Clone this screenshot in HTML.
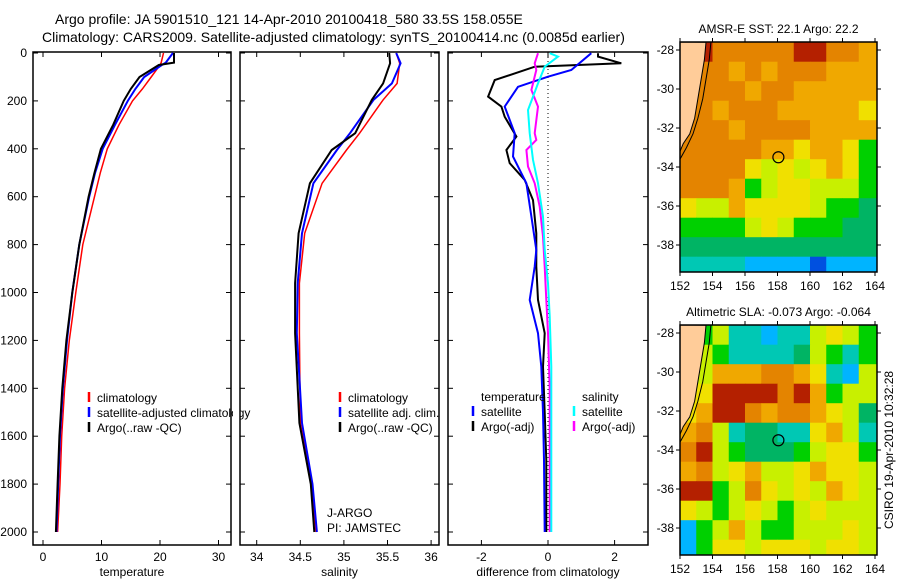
<!DOCTYPE html>
<html><head><meta charset="utf-8"><style>
html,body{margin:0;padding:0;background:#fff;}
svg{display:block;font-family:"Liberation Sans",sans-serif;}
</style></head><body>
<svg id="fig" width="900" height="580" viewBox="0 0 900 580" xmlns="http://www.w3.org/2000/svg">
<rect x="0" y="0" width="900" height="580" fill="#fff"/>
<text x="55" y="24" font-size="14">Argo profile: JA 5901510_121 14-Apr-2010 20100418_580 33.5S 158.055E</text>
<text x="42" y="42" font-size="14">Climatology: CARS2009. Satellite-adjusted climatology: synTS_20100414.nc (0.0085d earlier)</text>
<g id="g"></g>
</svg>
<script>
// ---- data ----
const depthT = [0,40,50,100,150,200,300,400,500,600,800,1000,1200,1400,1600,1800,2000];
const tempClim = [20.6,20.2,20.0,18.5,17.0,15.3,13.0,11.0,9.8,8.8,6.8,5.6,4.5,3.7,3.2,2.9,2.5];
const tempSat  = [22.2,21.0,20.3,17.3,15.8,14.5,12.3,10.2,8.9,7.9,6.2,5.0,4.1,3.4,2.9,2.6,2.3];
const tempArgo = [22.4,22.4,19.8,16.5,15.0,13.8,12.0,9.9,8.8,7.8,6.2,5.0,4.0,3.3,2.8,2.5,2.2];
const depthS = [0,43,127,196,335,405,544,753,961,1170,1545,1800,2000];
const salClim = [35.60,35.64,35.61,35.45,35.18,35.03,34.75,34.55,34.49,34.49,34.50,34.63,34.68];
const salSat  = [35.60,35.65,35.55,35.34,35.07,34.92,34.65,34.52,34.47,34.46,34.52,34.64,34.69];
const salArgo = [35.52,35.53,35.45,35.32,35.13,34.86,34.61,34.48,34.44,34.44,34.49,34.62,34.66];
const depthDT = [1,15,43,57,85,113,182,224,266,349,405,460,530,614,753,892,1031,1170,1310,1500,1700,2000];
const diffTArgo = [1.5,1.5,2.2,-0.4,-1.0,-1.6,-1.8,-1.4,-1.3,-0.95,-1.25,-1.15,-0.7,-0.45,-0.35,-0.35,-0.3,-0.1,-0.15,-0.1,-0.05,-0.05];
const depthDTs = [1,71,99,141,224,335,432,544,683,822,892,1031,1170,1310,1500,1700,2000];
const diffTSat = [1.3,0.7,0.0,-0.9,-1.3,-1.0,-1.05,-0.65,-0.5,-0.35,-0.4,-0.55,-0.3,-0.2,-0.15,-0.12,-0.1];
const depthDS = [1,15,57,127,238,335,446,544,683,822,961,1100,1310,1600,2000];
const diffSSat = [0.05,0.3,-0.1,-0.3,-0.6,-0.55,-0.45,-0.3,-0.15,-0.1,0.0,0.05,0.1,0.1,0.1];
const depthDM = [1,43,71,154,224,335,363,405,474,544,641,766,892,1031,1170,1400,2000];
const diffSArgo = [-0.3,-0.4,-0.35,-0.5,-0.3,-0.4,-0.35,-0.65,-0.6,-0.4,-0.25,-0.15,-0.1,-0.05,0.0,0.05,0.05];
const depthTicks = [0,200,400,600,800,1000,1200,1400,1600,1800,2000];
const tempTicks = [0,10,20,30];
const salTicks = [34,34.5,35,35.5,36];
const diffTicks = [-2,0,2];
const lonTicks = [152,154,156,158,160,162,164];
const latTicks = [-28,-30,-32,-34,-36,-38];
const sstGrid = [
[9,9,8,8,8,8,8,9,9,8,8,7],
[9,8,8,7,8,7,8,8,8,7,7,7],
[9,8,8,8,7,8,8,7,7,7,7,7],
[8,8,7,8,8,8,7,7,7,7,7,6],
[8,8,8,7,8,8,8,8,7,7,7,7],
[8,8,8,8,8,7,7,6,7,7,6,4],
[8,8,8,8,6,5,6,5,6,7,6,4],
[8,8,8,7,4,5,6,6,5,5,5,4],
[6,5,5,7,6,6,6,6,5,4,4,3],
[4,4,4,4,5,6,5,4,4,4,3,3],
[3,3,3,3,3,3,3,3,3,3,3,3],
[2,2,2,2,1,1,1,1,0,1,1,1]];
const slaGrid = [
[5,4,5,2,2,1,2,2,5,6,5,4],
[5,5,4,2,2,2,2,3,5,4,2,4],
[5,5,7,7,7,8,8,7,6,2,1,5],
[6,6,9,9,9,9,8,9,7,4,5,5],
[6,7,9,9,8,7,8,8,7,6,5,3],
[7,8,5,2,3,3,2,2,6,7,5,2],
[8,9,5,4,3,3,3,4,5,6,6,4],
[7,8,5,6,7,5,5,6,7,6,6,5],
[9,9,4,5,8,6,5,6,5,7,6,5],
[6,5,4,5,6,5,4,5,6,5,5,5],
[1,4,5,7,5,4,4,5,5,5,6,5],
[1,4,6,6,5,6,6,6,5,6,6,5]];
const coastLon = [153.6,153.5,153.3,153.1,152.9,152.6,152.2,152.0];
const coastLat = [-27.6,-28.5,-29.5,-30.5,-31.5,-32.3,-32.8,-33.2];
const shelfLon = [153.9,153.8,153.6,153.4,153.1,152.8,152.4,152.0];
const shelfLat = [-27.6,-28.5,-29.5,-30.5,-31.5,-32.3,-33.0,-33.6];
const argoPos = [158.055,-33.5];

// ---- helpers ----
const NS="http://www.w3.org/2000/svg";
const root=document.getElementById('g');
function mk(tag,attrs,parent){const e=document.createElementNS(NS,tag);for(const k in attrs)e.setAttribute(k,attrs[k]);(parent||root).appendChild(e);return e;}
const yD=d=>53+d*0.2395;
const xT=v=>43+v*5.85;
const xS=v=>256.7+(v-34)*87.2;
const xDf=v=>548+v*33.3;
const palette=['#0050e0','#00b4ff','#00c8b4','#00b464','#00d000','#c8f000','#f0e000','#f0a800','#e48400','#b42000'];

function panel(name,x0,x1,ticks,fx,title,showY){
  const g=mk('g',{});
  
  
  const r=mk('rect',{x:x0,y:52,width:x1-x0,height:493,fill:'none',stroke:'#000','stroke-width':1.5},g);
  
  
  depthTicks.forEach(d=>{
    mk('line',{x1:x0,x2:x0+5,y1:yD(d),y2:yD(d),stroke:'#000'},g);
    mk('line',{x1:x1-5,x2:x1,y1:yD(d),y2:yD(d),stroke:'#000'},g);
    if(showY){const t=mk('text',{x:x0-6,y:yD(d)+4,'font-size':12,'text-anchor':'end'},g);t.textContent=d;
      
      }
  });
  ticks.forEach(v=>{
    const x=fx(v);
    mk('line',{x1:x,x2:x,y1:545,y2:540,stroke:'#000'},g);
    mk('line',{x1:x,x2:x,y1:52,y2:57,stroke:'#000'},g);
    const t=mk('text',{x:x,y:561,'font-size':12,'text-anchor':'middle'},g);t.textContent=v;
    
    
  });
  const t=mk('text',{x:(x0+x1)/2,y:576,'font-size':12,'text-anchor':'middle'},g);t.textContent=title;
  
  
  return g;
}
function line(name,xs,ds,fx,color,w){
  const pts=xs.map((v,i)=>fx(v).toFixed(1)+','+yD(ds[i]).toFixed(1)).join(' ');
  const p=mk('polyline',{points:pts,fill:'none',stroke:color,'stroke-width':w||2});
  
  
}
function legend(name,x,y,color,label){
  if(color){const m=mk('line',{x1:x,x2:x,y1:y-10,y2:y,stroke:color,'stroke-width':2.5});
    
    }
  const t=mk('text',{x:x+8,y:y,'font-size':12});t.textContent=label;
  
  
}

// Panel 1 temperature
panel('temperature-panel',33,231,tempTicks,xT,'temperature',true);
line('temp-climatology-line',tempClim,depthT,xT,'#ff0000',1.5);
line('temp-satellite-line',tempSat,depthT,xT,'#0000ff',2);
line('temp-argo-line',tempArgo,depthT,xT,'#000000',2);
legend('legend-climatology',89,402,'#f00','climatology');
legend('legend-satellite-adjusted',89,417,'#00f','satellite-adjusted climatology');
legend('legend-argo',89,432,'#000','Argo(..raw -QC)');

// Panel 2 salinity
mk('rect',{x:233,y:380,width:7,height:60,fill:'#fff'});
panel('salinity-panel',240,439,salTicks,xS,'salinity',false);
line('sal-climatology-line',salClim,depthS,xS,'#ff0000',1.5);
line('sal-satellite-line',salSat,depthS,xS,'#0000ff',2);
line('sal-argo-line',salArgo,depthS,xS,'#000000',2);
legend('legend-sal-climatology',340,402,'#f00','climatology');
legend('legend-sal-satellite',340,417,'#00f','satellite adj. clim.');
legend('legend-sal-argo',340,432,'#000','Argo(..raw -QC)');
const ja=mk('text',{x:327,y:517,'font-size':12});ja.textContent='J-ARGO';


const pi=mk('text',{x:327,y:532,'font-size':12});pi.textContent='PI: JAMSTEC';



// Panel 3 difference
panel('difference-panel',448,648,diffTicks,xDf,'difference from climatology',false);
const zl=mk('line',{x1:xDf(0),x2:xDf(0),y1:yD(0),y2:yD(2000),stroke:'#000','stroke-dasharray':'1,3'});


line('diff-temp-argo-line',diffTArgo,depthDT,xDf,'#000',2);
line('diff-temp-sat-line',diffTSat,depthDTs,xDf,'#0000ff',2);
line('diff-sal-argo-line',diffSArgo,depthDM,xDf,'#ff00ff',2);
line('diff-sal-sat-line',diffSSat,depthDS,xDf,'#00ffff',2);
legend('legend-temperature-header',473,401,null,'temperature');
legend('legend-temp-satellite',473,416,'#00f','satellite');
legend('legend-temp-argo',473,431,'#000','Argo(-adj)');
legend('legend-salinity-header',574,401,null,'salinity');
legend('legend-sal-satellite-diff',574,416,'#0ff','satellite');
legend('legend-sal-argo-diff',574,431,'#f0f','Argo(-adj)');

// Maps
function map(name,top,grid,title){
  const g=mk('g',{});
  
  
  const L=680,R=877,H=230;
  const lx=lon=>L+(lon-152)*16.25;
  const ly=lat=>top+8+(-28-lat)*19.5;
  const cid='clip-'+name;
  const cp=mk('clipPath',{id:cid},g);mk('rect',{x:L,y:top,width:R-L,height:H},cp);
  const cells=mk('g',{'clip-path':'url(#'+cid+')'},g);
  grid.forEach((row,i)=>row.forEach((v,j)=>{
    const lat0=-27.6-i;
    const c=mk('rect',{x:lx(152+j),y:ly(lat0),width:(j==11?20:16.6),height:19.9,fill:palette[v]},cells);
    
    
  }));
  const land=coastLon.map((v,i)=>lx(v)+','+ly(coastLat[i])).join(' ');
  const lp=mk('polygon',{points:L+','+top+' '+land+' '+L+','+ly(-33.2),fill:'#ffcc99',stroke:'#000','stroke-width':1},cells);
  
  
  const sh=mk('polyline',{points:shelfLon.map((v,i)=>lx(v)+','+ly(shelfLat[i])).join(' '),fill:'none',stroke:'#000','stroke-width':1},cells);
  
  
  const ci=mk('circle',{cx:lx(argoPos[0]),cy:ly(argoPos[1]),r:5.5,fill:'none',stroke:'#000','stroke-width':1.2},g);
  
  
  const fr=mk('rect',{x:L,y:top,width:R-L,height:H,fill:'none',stroke:'#000','stroke-width':1.5},g);
  
  
  lonTicks.forEach(v=>{const x=lx(v);
    mk('line',{x1:x,x2:x,y1:top,y2:top-4,stroke:'#000'},g);
    mk('line',{x1:x,x2:x,y1:top+H,y2:top+H+4,stroke:'#000'},g);
    const t=mk('text',{x:x,y:top+H+18,'font-size':12,'text-anchor':'middle'},g);t.textContent=v;
    
    });
  latTicks.forEach(v=>{const y=ly(v);
    mk('line',{x1:L,x2:L-4,y1:y,y2:y,stroke:'#000'},g);
    mk('line',{x1:R,x2:R+4,y1:y,y2:y,stroke:'#000'},g);
    const t=mk('text',{x:L-6,y:y+4,'font-size':12,'text-anchor':'end'},g);t.textContent=v;
    
    });
  const tt=mk('text',{x:(L+R)/2,y:top-9,'font-size':12,'text-anchor':'middle'},g);tt.textContent=title;
  
  
}
map('sst-map',42,sstGrid,'AMSR-E SST: 22.1 Argo: 22.2');
map('sla-map',325,slaGrid,'Altimetric SLA: -0.073 Argo: -0.064');
const cs=mk('text',{x:0,y:0,'font-size':12,'text-anchor':'middle',transform:'translate(893,450) rotate(-90)'});
cs.textContent='CSIRO 19-Apr-2010 10:32:28';


</script>
</body></html>
